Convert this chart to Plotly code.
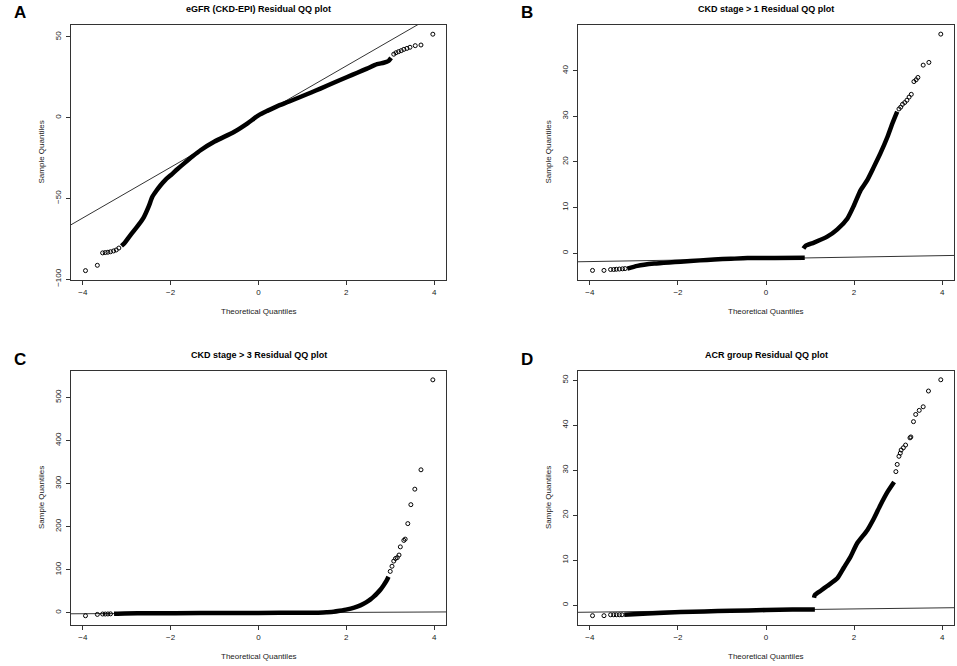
import plotly.graph_objects as go

W, H = 957, 666

# ---- panel A: eGFR (CKD-EPI) ----
a_dense_x = [-3.12, -3.05, -2.95, -2.83, -2.72, -2.61, -2.50, -2.42, -2.33, -2.23, -2.12, -2.00,
             -1.85, -1.70, -1.50, -1.32, -1.00, -0.56, -0.25, 0.00, 0.20, 0.42, 0.70, 0.95,
             1.20, 1.41, 1.70, 2.02, 2.25, 2.47, 2.70, 2.85, 2.96, 3.02]
a_dense_y = [-79.5, -77.7, -74.0, -69.8, -66.0, -61.6, -55.0, -49.2, -45.5, -41.9, -38.5, -35.7,
             -32.0, -28.5, -24.0, -20.2, -14.8, -8.9, -3.5, 1.4, 4.2, 7.0, 10.0, 12.8,
             15.6, 18.0, 21.5, 25.2, 27.8, 30.4, 33.1, 34.0, 35.1, 37.0]
a_sparse_x = [-3.94, -3.67, -3.55, -3.49, -3.43, -3.37, -3.30, -3.24, -3.18,
              3.08, 3.13, 3.19, 3.25, 3.31, 3.38, 3.45, 3.57, 3.70, 3.97]
a_sparse_y = [-94.8, -91.5, -83.8, -83.6, -83.4, -83.1, -82.6, -82.0, -80.8,
              39.3, 40.2, 40.9, 41.5, 42.3, 42.9, 43.6, 44.6, 45.0, 51.7]
a_qqline = [0.66, 15.7]  # intercept, slope

# ---- panel B: CKD stage > 1 ----
b_low_x = [-3.15, -2.92, -2.54, -2.20, -1.94, -1.50, -1.18, -0.80, -0.42, 0.20, 0.88]
b_low_y = [-3.4, -2.8, -2.3, -2.05, -1.9, -1.6, -1.4, -1.25, -1.1, -1.05, -1.0]
b_up_x = [0.85, 0.90, 1.09, 1.39, 1.62, 1.85, 2.00, 2.15, 2.30, 2.45, 2.60, 2.76, 2.87, 2.98]
b_up_y = [1.0, 1.6, 2.3, 3.6, 5.2, 7.6, 10.5, 13.8, 16.0, 18.9, 21.9, 25.5, 28.4, 31.0]
b_sparse_x = [-3.94, -3.68, -3.53, -3.46, -3.40, -3.33, -3.26, -3.20,
              3.02, 3.06, 3.10, 3.15, 3.20, 3.25, 3.30, 3.36, 3.41, 3.45, 3.57, 3.70, 3.97]
b_sparse_y = [-3.8, -3.8, -3.6, -3.6, -3.55, -3.5, -3.45, -3.4,
              31.6, 32.0, 32.6, 33.0, 33.5, 34.2, 34.8, 37.6, 38.0, 38.5, 41.2, 41.8, 48.0]
b_qqline = [-1.21, 0.163]

# ---- panel C: CKD stage > 3 ----
c_dense_x = [-3.29, -3.05, -2.50, -1.32, 0.00, 1.00, 1.33, 1.55, 1.71, 1.85, 2.02, 2.18,
             2.32, 2.45, 2.55, 2.63, 2.70, 2.78, 2.85, 2.92, 2.96]
c_dense_y = [-2.3, -1.5, -1.2, -0.8, -0.4, -0.1, 0.0, 1.2, 2.3, 4.5, 7.7, 12.0,
             17.0, 24.0, 31.0, 38.0, 45.0, 54.0, 64.0, 75.0, 83.6]
c_sparse_x = [-3.94, -3.67, -3.55, -3.49, -3.43, -3.37,
              3.00, 3.04, 3.08, 3.12, 3.16, 3.20, 3.23, 3.31, 3.34, 3.40, 3.47, 3.56, 3.70, 3.97]
c_sparse_y = [-7.0, -3.9, -3.0, -3.0, -2.8, -2.6,
              96.0, 108.0, 120.0, 126.0, 128.0, 134.0, 153.0, 168.0, 171.0, 207.0, 251.0, 287.0, 332.0, 541.0]
c_qqline = [-0.3, 0.5]

# ---- panel D: ACR group ----
d_low_x = [-3.22, -2.69, -2.20, -1.94, -1.40, -0.80, 0.00, 0.60, 1.11]
d_low_y = [-2.1, -1.8, -1.6, -1.5, -1.35, -1.2, -1.05, -0.95, -0.9]
d_up_x = [1.09, 1.11, 1.25, 1.39, 1.62, 1.77, 1.92, 2.07, 2.30, 2.45, 2.60, 2.76, 2.91]
d_up_y = [1.7, 2.3, 3.3, 4.3, 6.0, 8.4, 10.8, 13.8, 16.7, 19.3, 22.3, 25.2, 27.4]
d_sparse_x = [-3.94, -3.68, -3.53, -3.46, -3.40, -3.33, -3.27,
              2.95, 2.98, 3.02, 3.05, 3.07, 3.12, 3.17, 3.27, 3.29, 3.35, 3.40, 3.48, 3.57, 3.69, 3.97]
d_sparse_y = [-2.3, -2.3, -2.1, -2.1, -2.1, -2.1, -2.1,
              29.7, 31.3, 33.1, 33.8, 34.5, 35.0, 35.6, 37.2, 37.4, 40.8, 42.4, 43.3, 44.1, 47.6, 50.1]
d_qqline = [-1.04, 0.12]

titles = ["eGFR (CKD-EPI) Residual QQ plot", "CKD stage > 1 Residual QQ plot",
          "CKD stage > 3 Residual QQ plot", "ACR group Residual QQ plot"]
letters = ["A", "B", "C", "D"]
y_ticks = [[-100, -50, 0, 50], [0, 10, 20, 30, 40],
           [0, 100, 200, 300, 400, 500], [0, 10, 20, 30, 40, 50]]
y_ranges = [[-100.6, 57.4], [-5.9, 50.0], [-28.5, 561.5], [-4.37, 52.05]]
x_ticks = [-4, -2, 0, 2, 4]

# pixel boxes of each panel (left, right, top, bottom)
boxes = [(71, 446, 25, 280), (578, 954, 25, 280),
         (71, 446, 371, 625), (578, 954, 371, 625)]

FONT = "Liberation Sans, Arial, sans-serif"

fig = go.Figure()

dense = [
    [(a_dense_x, a_dense_y)],
    [(b_low_x, b_low_y), (b_up_x, b_up_y)],
    [(c_dense_x, c_dense_y)],
    [(d_low_x, d_low_y), (d_up_x, d_up_y)],
]
sparse = [(a_sparse_x, a_sparse_y), (b_sparse_x, b_sparse_y),
          (c_sparse_x, c_sparse_y), (d_sparse_x, d_sparse_y)]
qqlines = [a_qqline, b_qqline, c_qqline, d_qqline]


def note(text, px, py, size, angle=0, color="#222222"):
    fig.add_annotation(text=text, x=px / W, y=1 - py / H, xref="paper", yref="paper",
                       xanchor="center", yanchor="middle", showarrow=False, textangle=angle,
                       font=dict(family=FONT, size=size, color=color))


for i in range(4):
    xa = "x" if i == 0 else f"x{i+1}"
    ya = "y" if i == 0 else f"y{i+1}"
    b0, b1 = qqlines[i]
    fig.add_trace(go.Scatter(x=[-5, 5], y=[b0 - 5 * b1, b0 + 5 * b1], mode="lines",
                             line=dict(color="#333333", width=1), xaxis=xa, yaxis=ya,
                             showlegend=False, hoverinfo="skip"))
    for (dx, dy) in dense[i]:
        fig.add_trace(go.Scatter(x=dx, y=dy, mode="lines",
                                 line=dict(color="black", width=4.5, shape="spline", smoothing=0.6),
                                 xaxis=xa, yaxis=ya, showlegend=False))
    sx, sy = sparse[i]
    fig.add_trace(go.Scatter(x=sx, y=sy, mode="markers",
                             marker=dict(symbol="circle-open", size=4, color="black",
                                         line=dict(width=1, color="black")),
                             xaxis=xa, yaxis=ya, showlegend=False))

    l, r, t, btm = boxes[i]
    axis_common = dict(showline=True, mirror=True, linecolor="#333333", linewidth=1,
                       showgrid=False, zeroline=False, ticks="outside", ticklen=4,
                       tickcolor="#333333", automargin=False,
                       tickfont=dict(family=FONT, size=8, color="#222222"))
    fig.layout[f"xaxis{'' if i == 0 else i+1}"] = dict(
        domain=[l / W, r / W], range=[-4.27, 4.27], tickvals=x_ticks,
        anchor=ya, ticklabelstandoff=0, **axis_common)
    fig.layout[f"yaxis{'' if i == 0 else i+1}"] = dict(
        domain=[1 - btm / H, 1 - t / H], range=y_ranges[i], tickvals=y_ticks[i],
        anchor=xa, tickangle=-90, ticklabelstandoff=2, **axis_common)

    cx = (l + r) / 2
    note(f"<b>{titles[i]}</b>", cx, t - 16, 9, color="black")
    note(f"<b>{letters[i]}</b>", l - 51, t - 12, 17, color="black")
    note("Theoretical Quantiles", cx, btm + 31, 8)
    note("Sample Quantiles", l - 30, (t + btm) / 2, 8, angle=-90)

fig.update_layout(width=W, height=H, margin=dict(l=0, r=0, t=0, b=0),
                  paper_bgcolor="white", plot_bgcolor="white")

fig.write_html("out.html", config={"displayModeBar": False},
               post_script="document.body.style.margin='0px';document.body.style.overflow='hidden';")
